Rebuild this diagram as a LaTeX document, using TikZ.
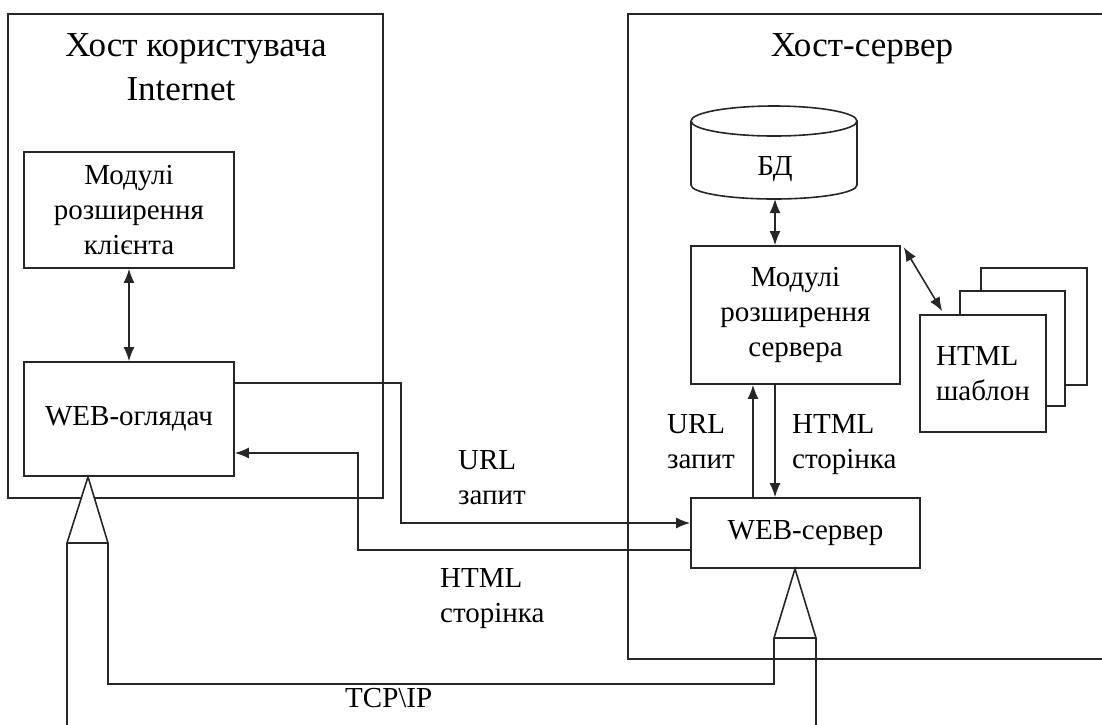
\documentclass[tikz,border=0pt]{standalone}
\usepackage{fontspec}
\setmainfont{Liberation Serif}
\usetikzlibrary{arrows.meta,calc}
\newcommand\bodyfnt{\fontsize{29}{35}\selectfont}
\newcommand\titlefnt{\fontsize{35}{44}\selectfont}
\begin{document}
\begin{tikzpicture}[x=1pt,y=-1pt,
  ln/.style={line width=1.6pt, draw=black!85},
  box/.style={ln, fill=white, inner sep=0pt, align=center, font=\bodyfnt},
  txt/.style={inner sep=0pt, font=\bodyfnt},
  lbl/.style={inner sep=0pt, font=\bodyfnt, align=left, anchor=north west},
  ttl/.style={inner sep=0pt, font=\titlefnt, anchor=base},
  arr/.style={ln, -{Latex[length=14pt,width=11pt]}},
  darr/.style={ln, {Latex[length=14pt,width=11pt]}-{Latex[length=14pt,width=11pt]}},
  tri/.style={ln, fill=white, line join=miter}
]
\useasboundingbox (0,0) rectangle (1102,724);

% host containers
\node[ln, inner sep=0pt, minimum width=375, minimum height=484] (hostU) at (195.5,256) {};
\node[ln, inner sep=0pt, minimum width=482, minimum height=645] (hostS) at (869,336.5) {};

\node[ttl] (tU) at (196,56) {Хост користувача};
\node[ttl] (tI) at (181,100) {Internet};
\node[ttl] (tS) at (862,56) {Хост-сервер};

% client side
\node[box, minimum width=210, minimum height=116] (cmod) at (129,210) {Модулі\\розширення\\клієнта};
\node[box, minimum width=210, minimum height=114] (browser) at (129,419) {WEB-оглядач};

% server side
\node[box, minimum width=209, minimum height=138] (smod) at (795.5,315) {Модулі\\розширення\\сервера};
\node[box, minimum width=229, minimum height=70] (wserv) at (805.5,533) {WEB-сервер};

% DB cylinder
\draw[ln] (774,121) ellipse [x radius=83, y radius=15];
\draw[ln] (691,121) -- (691,185) arc[start angle=180, end angle=0, x radius=83, y radius=14] -- (857,121);
\node[txt, anchor=base] (db) at (775,175) {БД};
\coordinate (dbbot) at (775,199);

% templates stack
\node[box, minimum width=106, minimum height=117] (tpl3) at (1034,326.5) {};
\node[box, minimum width=105, minimum height=115] (tpl2) at (1012.5,348.5) {};
\node[box, minimum width=126, minimum height=117, align=left] (tpl1) at (983,373.5) {HTML\\шаблон};

% arrows
\draw[darr] (cmod.south) -- (browser.north);
\draw[darr] (dbbot) -- (smod.north -| dbbot);
\draw[darr] ($(smod.north east)+(3,2)$) -- ($(tpl1.north west)+(23,-3)$);

\draw[arr] (wserv.north -| 753,0) -- (smod.south -| 753,0);
\draw[arr] (smod.south -| 775,0) -- (wserv.north -| 775,0);

\draw[arr] (browser.east |- 0,383) -| (401,523) -- (wserv.west |- 0,523);
\draw[arr] (wserv.west |- 0,550) -| (358,453) -- (browser.east |- 0,453);

% labels
\node[lbl] (l1) at (458,450) {URL\\запит};
\node[lbl] (l2) at (440,568) {HTML\\сторінка};
\node[lbl] (l3) at (667,414) {URL\\запит};
\node[lbl] (l4) at (792,414) {HTML\\сторінка};

% TCP/IP link
\coordinate (apL) at (browser.south -| 88,0);
\coordinate (apR) at (wserv.south -| 795,0);
\draw[ln] (67,543) -- (67,730);
\draw[ln] (108,543) -- (108,684) -- (774,684) -- (774,638);
\draw[ln] (816,638) -- (816,730);
\draw[tri] (apL) -- (67,543) -- (108,543) -- cycle;
\draw[tri] (apR) -- (774,638) -- (816,638) -- cycle;
\node[txt, anchor=base west] (tcp) at (345,707) {TCP\textbackslash IP};
\end{tikzpicture}
\end{document}
